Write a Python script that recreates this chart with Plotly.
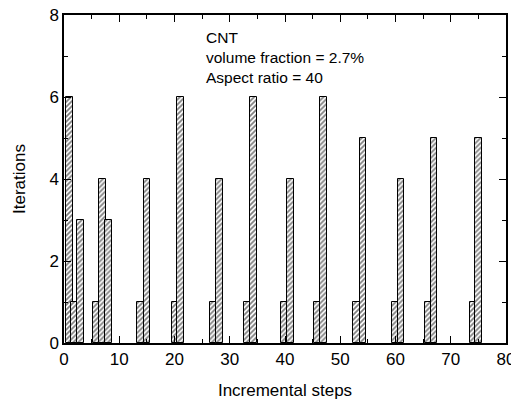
import plotly.graph_objects as go

# Incremental step (bar centre) and number of iterations at that step
steps = [1.0, 1.9, 3.0, 5.9, 7.0, 8.1, 13.9, 15.0, 20.1, 21.1, 27.0, 28.2, 33.1, 34.3,
         39.8, 41.0, 45.9, 47.0, 52.9, 54.1, 59.9, 61.0, 65.9, 67.0, 74.0, 75.0]
iterations = [6, 1, 3, 1, 4, 3, 1, 4, 1, 6, 1, 4, 1, 6,
              1, 4, 1, 6, 1, 5, 1, 4, 1, 5, 1, 5]

note_lines = ["CNT", "volume fraction = 2.7%", "Aspect ratio = 40"]

fig = go.Figure()

fig.add_trace(go.Bar(
    x=steps, y=iterations, width=1.2,
    marker=dict(color="white", line=dict(color="black", width=1),
                pattern=dict(shape="/", fgcolor="black", bgcolor="white",
                             size=3.5, solidity=0.5)),
    showlegend=False,
))

fig.add_annotation(x=25.3, y=7.7, xref="x", yref="y", xanchor="left", yanchor="top",
                   text="<br>".join(note_lines), align="left", showarrow=False,
                   font=dict(size=15.5, color="black"))

axis_style = dict(showline=True, linecolor="black", linewidth=1.5, mirror="ticks",
                  ticks="inside", ticklen=7, tickcolor="black", tickwidth=1,
                  showgrid=False, zeroline=False, automargin=False,
                  ticklabeloverflow="allow",
                  tickfont=dict(size=17, color="black"))

fig.update_xaxes(range=[0, 80], dtick=10,
                 minor=dict(dtick=5, ticks="inside", ticklen=4, tickcolor="black"),
                 title=dict(text="Incremental steps", font=dict(size=17, color="black"), standoff=17),
                 **axis_style)
fig.update_yaxes(range=[0, 8], dtick=2,
                 minor=dict(dtick=1, ticks="inside", ticklen=4, tickcolor="black"),
                 title=dict(text="Iterations", font=dict(size=17, color="black"), standoff=19),
                 **axis_style)

# page body adds an 8px offset, so the figure is sized to fit the window
fig.update_layout(width=511, height=392, plot_bgcolor="white", paper_bgcolor="white",
                  font=dict(family="Liberation Sans, Arial", color="black"),
                  margin=dict(l=56, r=13, t=7, b=57), bargap=0)

fig.write_html("out.html")
